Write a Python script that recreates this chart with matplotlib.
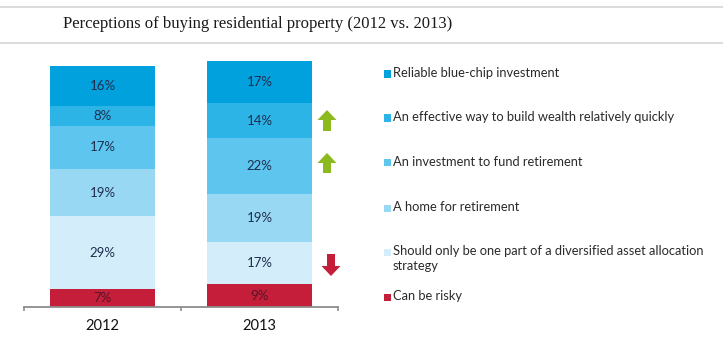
import matplotlib
matplotlib.use("Agg")
import matplotlib.pyplot as plt
from matplotlib.patches import Polygon, Rectangle

years = ["2012", "2013"]
categories = [
    "Can be risky",
    "Should only be one part of a diversified asset allocation\nstrategy",
    "A home for retirement",
    "An investment to fund retirement",
    "An effective way to build wealth relatively quickly",
    "Reliable blue-chip investment",
]
# bottom to top
values_2012 = [7, 29, 19, 17, 8, 16]
values_2013 = [9, 17, 19, 22, 14, 17]
colors = ["#c41e3a", "#d3eefa", "#99d8f3", "#5dc5ee", "#2cb4e6", "#00a1dc"]
label_colors = ["#5a1426", "#1f2d4e", "#1f2d4e", "#1f2d4e", "#1f2d4e", "#1f2d4e"]

W, H = 723, 343


def fx(x):
    return x / W


def fy(y):
    return 1 - y / H


fig = plt.figure(figsize=(W / 100, H / 100), dpi=100)
fig.patch.set_facecolor("white")

# header rules and title
for yy in (7, 43):
    fig.add_artist(plt.Line2D([0, 1], [fy(yy), fy(yy)], color="#d6d6d6", lw=1.2))
fig.text(fx(63), fy(24), "Perceptions of buying residential property (2012 vs. 2013)",
         family=["Liberation Serif", "DejaVu Serif"], fontsize=12, color="#1a1a1a",
         va="center", ha="left")

# stacked bars
ax = fig.add_axes([fx(24), fy(307), fx(338) - fx(24), fy(57) - fy(307)])
sans = ["Lato", "DejaVu Sans"]
series = [values_2012, values_2013]
for xi, vals in enumerate(series):
    bottom = 0
    for k, v in enumerate(vals):
        ax.bar(xi, v, bottom=bottom, width=0.665, color=colors[k], linewidth=0)
        ax.text(xi, bottom + v / 2, f"{v}%", ha="center", va="center",
                fontsize=9.5, color=label_colors[k], family=sans)
        bottom += v

ax.set_xlim(-0.5, 1.5)
ax.set_ylim(0, 250 / 2.515)
for s in ("top", "right", "left"):
    ax.spines[s].set_visible(False)
ax.spines["bottom"].set_color("#8c8c8c")
ax.spines["bottom"].set_linewidth(1.3)
ax.set_yticks([])
ax.set_xticks([0, 1])
ax.set_xticklabels(years, family=sans, fontsize=10.5, color="#111111")
ax.tick_params(axis="x", which="major", length=0, pad=9)
ax.set_xticks([-0.5, 0.5, 1.5], minor=True)
ax.tick_params(axis="x", which="minor", length=3, width=1.2, color="#8c8c8c")

# legend, top to bottom
legend_rows = [74, 118, 163, 208, 252, 297]
legend_font = ["Lato", "DejaVu Sans"]
for i, k in enumerate(reversed(range(len(categories)))):
    yc = legend_rows[i]
    fig.add_artist(Rectangle((fx(384), fy(yc + 3.5)), fx(7), 7 / H,
                             transform=fig.transFigure, color=colors[k], lw=0))
    fig.text(fx(393), fy(yc - 7), categories[k], family=legend_font, fontsize=9.3,
             color="#2a2a2a", ha="left", va="top", linespacing=1.35)


# change arrows
def arrow(cx, ytop, ybot, up, color):
    hw, hl, sw = 9.5, 10, 4
    if up:
        pts = [(cx, ytop), (cx + hw, ytop + hl), (cx + sw, ytop + hl), (cx + sw, ybot),
               (cx - sw, ybot), (cx - sw, ytop + hl), (cx - hw, ytop + hl)]
    else:
        pts = [(cx, ybot), (cx + hw, ybot - hl), (cx + sw, ybot - hl), (cx + sw, ytop),
               (cx - sw, ytop), (cx - sw, ybot - hl), (cx - hw, ybot - hl)]
    fig.add_artist(Polygon([(fx(a), fy(b)) for a, b in pts], closed=True,
                           transform=fig.transFigure, color=color, lw=0))


arrow(327, 110, 131, True, "#8cba1e")
arrow(327, 153, 173, True, "#8cba1e")
arrow(331, 254, 276, False, "#c41e3a")

fig.savefig("out.png", dpi=100)
